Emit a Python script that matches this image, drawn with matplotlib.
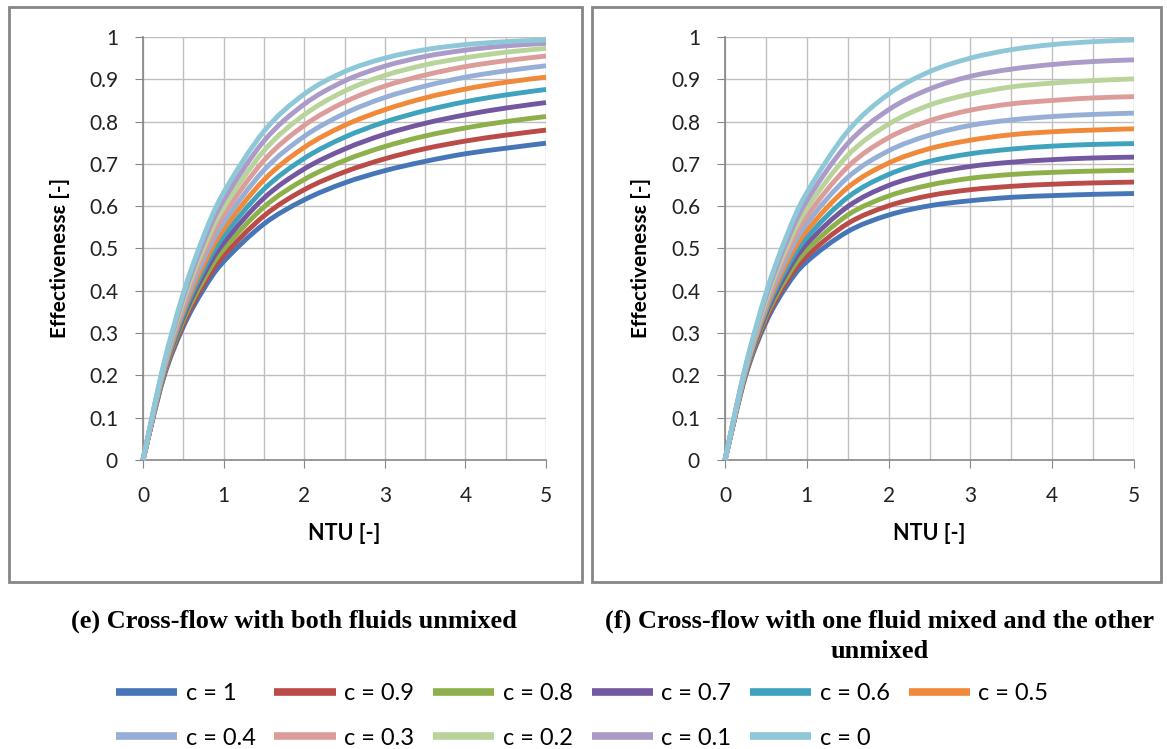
import numpy as np
import matplotlib
matplotlib.use("Agg")
import matplotlib.pyplot as plt
from matplotlib.patches import Rectangle, PathPatch
from matplotlib.path import Path
from matplotlib.lines import Line2D
from matplotlib.ticker import MultipleLocator, FuncFormatter

# NTU values (x axis)
ntu = [0, 0.25, 0.5, 0.75, 1, 1.5, 2, 2.5, 3, 3.5, 4, 4.5, 5]
c_values = ["1", "0.9", "0.8", "0.7", "0.6", "0.5", "0.4", "0.3", "0.2", "0.1", "0"]
colors = ["#4676b8", "#bb4b48", "#8db04b", "#7357a0", "#3fa3bd", "#f0893a",
          "#95afd6", "#dc9c9a", "#b8d49a", "#aa9bc8", "#8ec8d8"]

# (e) cross-flow, both fluids unmixed
eff_unmixed = [
    [0, .191, .315, .403, .469, .558, .615, .655, .684, .706, .724, .737, .749],
    [0, .194, .322, .414, .483, .577, .639, .681, .712, .736, .754, .768, .780],
    [0, .197, .330, .425, .498, .598, .663, .708, .741, .766, .785, .800, .812],
    [0, .200, .337, .437, .513, .619, .688, .735, .770, .796, .816, .832, .845],
    [0, .202, .344, .449, .529, .640, .713, .763, .799, .826, .847, .863, .876],
    [0, .205, .352, .461, .545, .662, .739, .791, .828, .856, .877, .893, .905],
    [0, .209, .360, .474, .561, .685, .765, .819, .857, .884, .905, .920, .932],
    [0, .212, .368, .487, .579, .708, .791, .846, .884, .910, .930, .944, .955],
    [0, .215, .376, .500, .596, .731, .816, .872, .909, .934, .951, .964, .973],
    [0, .218, .385, .514, .614, .754, .841, .896, .931, .954, .969, .979, .985],
    [0, .221, .394, .528, .632, .777, .865, .918, .950, .970, .982, .989, .993],
]

# (f) cross-flow, one fluid mixed and the other unmixed
eff_mixed = [
    [0, .198, .325, .410, .469, .540, .579, .601, .613, .621, .625, .628, .630],
    [0, .201, .331, .420, .482, .559, .601, .625, .639, .647, .652, .655, .657],
    [0, .203, .338, .430, .496, .579, .624, .650, .666, .675, .680, .683, .685],
    [0, .205, .344, .441, .511, .599, .649, .677, .694, .704, .710, .714, .716],
    [0, .207, .351, .452, .526, .621, .675, .706, .724, .735, .742, .746, .748],
    [0, .209, .357, .464, .542, .644, .702, .736, .756, .769, .776, .780, .783],
    [0, .212, .364, .476, .559, .668, .731, .768, .791, .804, .812, .817, .820],
    [0, .214, .371, .488, .576, .693, .762, .802, .827, .842, .850, .856, .859],
    [0, .216, .378, .501, .594, .720, .794, .839, .865, .882, .891, .897, .901],
    [0, .219, .386, .514, .613, .748, .828, .877, .907, .924, .935, .942, .946],
    [0, .221, .394, .528, .632, .777, .865, .918, .950, .970, .982, .989, .993],
]


def smooth_path(xs, ys):
    # Excel-style "smoothed line": cubic bezier segments through the points
    pts = np.column_stack([xs, ys]).astype(float)
    n = len(pts)
    verts = [pts[0]]
    codes = [Path.MOVETO]
    for i in range(n - 1):
        p0 = pts[max(i - 1, 0)]
        p1 = pts[i]
        p2 = pts[i + 1]
        p3 = pts[min(i + 2, n - 1)]
        verts += [p1 + (p2 - p0) / 6, p2 - (p3 - p1) / 6, p2]
        codes += [Path.CURVE4] * 3
    return Path(verts, codes)


plt.rcParams["font.family"] = ["Lato", "DejaVu Sans"]

W, H = 1167, 749
fig = plt.figure(figsize=(W / 100, H / 100), dpi=100)

# panel frames
for x0, x1 in [(9, 582), (592, 1161)]:
    fig.add_artist(Rectangle((x0 / W, 1 - 582 / H), (x1 - x0) / W, (582 - 7) / H,
                             transform=fig.transFigure, fill=False,
                             edgecolor="#868686", lw=2))

ax1 = fig.add_axes([143 / W, 1 - 460 / H, (546 - 143) / W, (460 - 37) / H])
ax2 = fig.add_axes([725 / W, 1 - 460 / H, (1134 - 725) / W, (460 - 37) / H])

for ax, data in [(ax1, eff_unmixed), (ax2, eff_mixed)]:
    for i in range(len(c_values)):
        ax.add_patch(PathPatch(smooth_path(ntu, data[i]), facecolor="none",
                               edgecolor=colors[i], lw=3.5, clip_on=False,
                               capstyle="butt", zorder=3))
    ax.set_xlim(0, 5)
    ax.set_ylim(0, 1)
    ax.xaxis.set_major_locator(MultipleLocator(1))
    ax.xaxis.set_minor_locator(MultipleLocator(0.5))
    ax.yaxis.set_major_locator(MultipleLocator(0.1))
    ax.yaxis.set_major_formatter(FuncFormatter(lambda v, p: "%g" % round(v, 1)))
    ax.grid(True, which="both", color="#bfbfbf", lw=1)
    ax.set_axisbelow(True)
    for s in ["top", "right"]:
        ax.spines[s].set_visible(False)
    for s in ["left", "bottom"]:
        ax.spines[s].set_color("#868686")
        ax.spines[s].set_linewidth(1.2)
    ax.tick_params(axis="both", which="major", direction="out", length=6,
                   color="#868686", labelsize=15, labelcolor="#222222")
    ax.tick_params(axis="y", pad=12)
    ax.tick_params(axis="x", pad=13)
    ax.tick_params(axis="x", which="minor", length=0)
    ax.set_xlabel("NTU [-]", fontsize=15.5, fontweight="bold", labelpad=12)
    ax.set_ylabel("Effectivenessε [-]", fontsize=15, fontweight="bold")
    ax.yaxis.set_label_coords(-0.18, 0.478)

# captions
cap = dict(family="Liberation Serif", fontweight="bold", fontsize=19, ha="center", va="center")
fig.text(294 / W, 1 - 621 / H, "(e) Cross-flow with both fluids unmixed", **cap)
fig.text(880 / W, 1 - 621 / H, "(f) Cross-flow with one fluid mixed and the other", **cap)
fig.text(880 / W, 1 - 651 / H, "unmixed", **cap)

# legend, row-major order in 6 columns
handles = [Line2D([], [], color=col, lw=5.5, solid_capstyle="butt") for col in colors]
order = [0, 6, 1, 7, 2, 8, 3, 9, 4, 10, 5]
fig.legend([handles[i] for i in order], ["c = " + c_values[i] for i in order],
           ncol=6, loc="upper left", bbox_to_anchor=(116 / W, 1 - 683 / H),
           frameon=False, fontsize=17, handlelength=2.6, handletextpad=0.35,
           columnspacing=0.8, labelspacing=1.0, borderpad=0, borderaxespad=0)

fig.savefig("out.png", dpi=100)
